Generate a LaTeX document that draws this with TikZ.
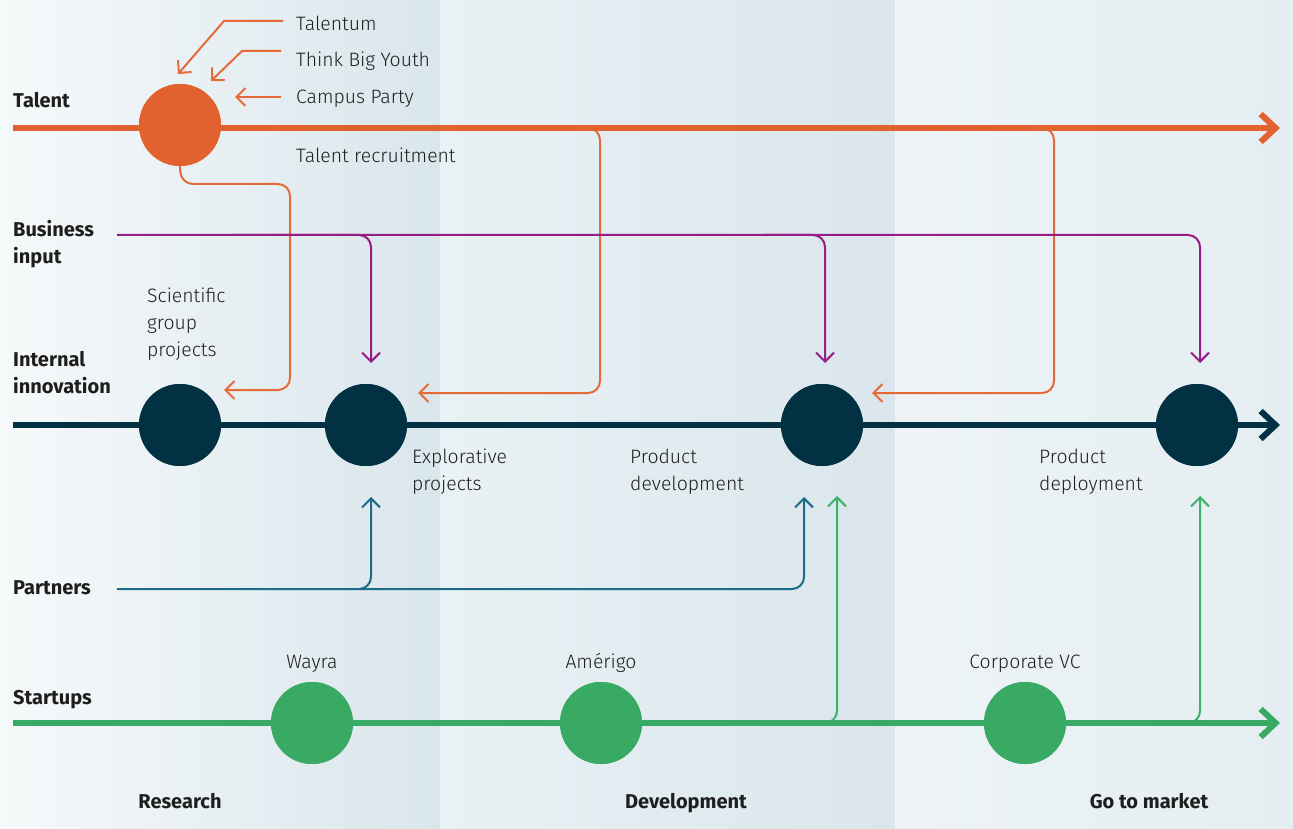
\documentclass[tikz,border=0pt]{standalone}
\usepackage{fontspec}
\setmainfont{Fira Sans Light}[BoldFont={Fira Sans Bold}]
\usetikzlibrary{arrows.meta}
\definecolor{cOrange}{HTML}{E2622F}
\definecolor{cOrangeT}{HTML}{E66A38}
\definecolor{cNavy}{HTML}{033144}
\definecolor{cPurple}{HTML}{981C85}
\definecolor{cTeal}{HTML}{1B6C88}
\definecolor{cGreen}{HTML}{39AA63}
\definecolor{cGreenT}{HTML}{3FB06B}
\definecolor{cText}{HTML}{1E1E1E}
\definecolor{cBgA}{HTML}{F6F9FA}
\definecolor{cBgB}{HTML}{D9E6EC}
\definecolor{cBgC}{HTML}{E9F1F4}
\definecolor{cBgD}{HTML}{DAE6EC}
\definecolor{cBgE}{HTML}{EEF4F6}
\definecolor{cBgF}{HTML}{E4EDF1}
\tikzset{
  mainline/.style={line width=6pt, -{Straight Barb[length=15pt,width=28pt]}},
  thinline/.style={line width=2pt, rounded corners=12pt, -{Straight Barb[length=9pt,width=18pt]}},
  srcline/.style={line width=2pt, -{Straight Barb[length=9pt,width=18pt]}},
  dot/.style={circle, inner sep=0pt, minimum size=82pt},
  lbl/.style={font=\fontsize{20}{27}\selectfont\bfseries, text=cText, anchor=base west, inner sep=0pt, align=left},
  txt/.style={font=\fontsize{19.4}{27}\selectfont, text=cText, anchor=base west, inner sep=0pt, align=left},
  ctxt/.style={font=\fontsize{19.4}{27}\selectfont, text=cText, anchor=base, inner sep=0pt},
  clbl/.style={font=\fontsize{20}{27}\selectfont\bfseries, text=cText, anchor=base, inner sep=0pt}
}
\begin{document}
\begin{tikzpicture}[x=1pt,y=-1pt]
\useasboundingbox (0,0) rectangle (1293,829);
% background panels
\shade[left color=cBgA, right color=cBgB] (0,0) rectangle (440,829);
\shade[left color=cBgC, right color=cBgD] (440,0) rectangle (895,829);
\shade[left color=cBgE, right color=cBgF] (895,0) rectangle (1293,829);

% nodes
\node[dot, fill=cOrange] (t1) at (180,125) {};
\node[dot, fill=cNavy] (i1) at (180,425) {};
\node[dot, fill=cNavy] (i2) at (366,425) {};
\node[dot, fill=cNavy] (i3) at (822,425) {};
\node[dot, fill=cNavy] (i4) at (1197,425) {};
\node[dot, fill=cGreen] (s1) at (312,723) {};
\node[dot, fill=cGreen] (s2) at (601,723) {};
\node[dot, fill=cGreen] (s3) at (1025,723) {};

% line coordinates
\coordinate (tS) at (13,128);
\coordinate (tE) at (1280,128);
\coordinate (iS) at (13,425);
\coordinate (iE) at (1280,425);
\coordinate (sS) at (13,723);
\coordinate (sE) at (1280,723);

% talent sources
\coordinate (tumA) at (283,21);
\coordinate (tumB) at (224,21);
\coordinate (tumC) at (178,74);
\draw[srcline, cOrangeT] (tumA) -- (tumB) -- (tumC);
\coordinate (tbyA) at (281,51);
\coordinate (tbyB) at (242,51);
\coordinate (tbyC) at (211,81);
\draw[srcline, cOrangeT] (tbyA) -- (tbyB) -- (tbyC);
\coordinate (cpA) at (281,97);
\coordinate (cpB) at (235,97);
\draw[srcline, cOrangeT] (cpA) -- (cpB);

% talent recruitment connectors
\coordinate (r1) at (224,390);
\draw[thinline, cOrangeT] (t1.south) -- (181,184) -- (290,184) -- (290,390) -- (r1);
\coordinate (r2a) at (560,128);
\coordinate (r2) at (418,393);
\draw[thinline, cOrangeT] (r2a) -- (600,128) -- (600,393) -- (r2);
\coordinate (r3a) at (1010,128);
\coordinate (r3) at (872,393);
\draw[thinline, cOrangeT] (r3a) -- (1054,128) -- (1054,393) -- (r3);

% business input
\coordinate (b1a) at (117,235);
\coordinate (b1) at (371,363);
\draw[thinline, cPurple] (b1a) -- (371,235) -- (b1);
\coordinate (b2a) at (230,235);
\coordinate (b2) at (825,363);
\draw[thinline, cPurple] (b2a) -- (825,235) -- (b2);
\coordinate (b3a) at (763,235);
\coordinate (b3) at (1200,363);
\draw[thinline, cPurple] (b3a) -- (1200,235) -- (b3);

% partners
\coordinate (p1a) at (117,589);
\coordinate (p1) at (371,497);
\draw[thinline, cTeal] (p1a) -- (371,589) -- (p1);
\coordinate (p2a) at (360,589);
\coordinate (p2) at (804,497);
\draw[thinline, cTeal] (p2a) -- (804,589) -- (p2);

% startups up
\coordinate (g1a) at (800,723);
\coordinate (g1) at (837,496);
\draw[thinline, cGreenT] (g1a) -- (837,723) -- (g1);
\coordinate (g2a) at (1160,723);
\coordinate (g2) at (1200,496);
\draw[thinline, cGreenT] (g2a) -- (1200,723) -- (g2);

% main lines
\draw[mainline, cOrange] (tS) -- (tE);
\draw[mainline, cNavy] (iS) -- (iE);
\draw[mainline, cGreen] (sS) -- (sE);

% circles on top of lines
\fill[cOrange] (t1) circle (41);
\fill[cNavy] (i1) circle (41);
\fill[cNavy] (i2) circle (41);
\fill[cNavy] (i3) circle (41);
\fill[cNavy] (i4) circle (41);
\fill[cGreen] (s1) circle (41);
\fill[cGreen] (s2) circle (41);
\fill[cGreen] (s3) circle (41);

% row labels (multi-line: base = last line)
\node[lbl] (lT) at (13,108) {Talent};
\node[lbl] (lB) at (13,263) {Business\\input};
\node[lbl] (lI) at (13,393) {Internal\\innovation};
\node[lbl] (lP) at (13,594) {Partners};
\node[lbl] (lS) at (13,704) {Startups};

% texts
\node[txt] (x1) at (296,31) {Talentum};
\node[txt] (x2) at (296,67) {Think Big Youth};
\node[txt] (x3) at (296,104) {Campus Party};
\node[txt] (x4) at (296,163) {Talent recruitment};
\node[txt] (x5) at (147,356) {Scientific\\group\\projects};
\node[txt] (x6) at (412,490) {Explorative\\projects};
\node[txt] (x7) at (630,490) {Product\\development};
\node[txt] (x8) at (1039,490) {Product\\deployment};
\node[ctxt] (x9) at (312,668) {Wayra};
\node[ctxt] (x10) at (601,668) {Amérigo};
\node[ctxt] (x11) at (1025,668) {Corporate VC};

% phases
\node[clbl] (ph1) at (180,808) {Research};
\node[clbl] (ph2) at (686,808) {Development};
\node[clbl] (ph3) at (1149,808) {Go to market};
\end{tikzpicture}
\end{document}
